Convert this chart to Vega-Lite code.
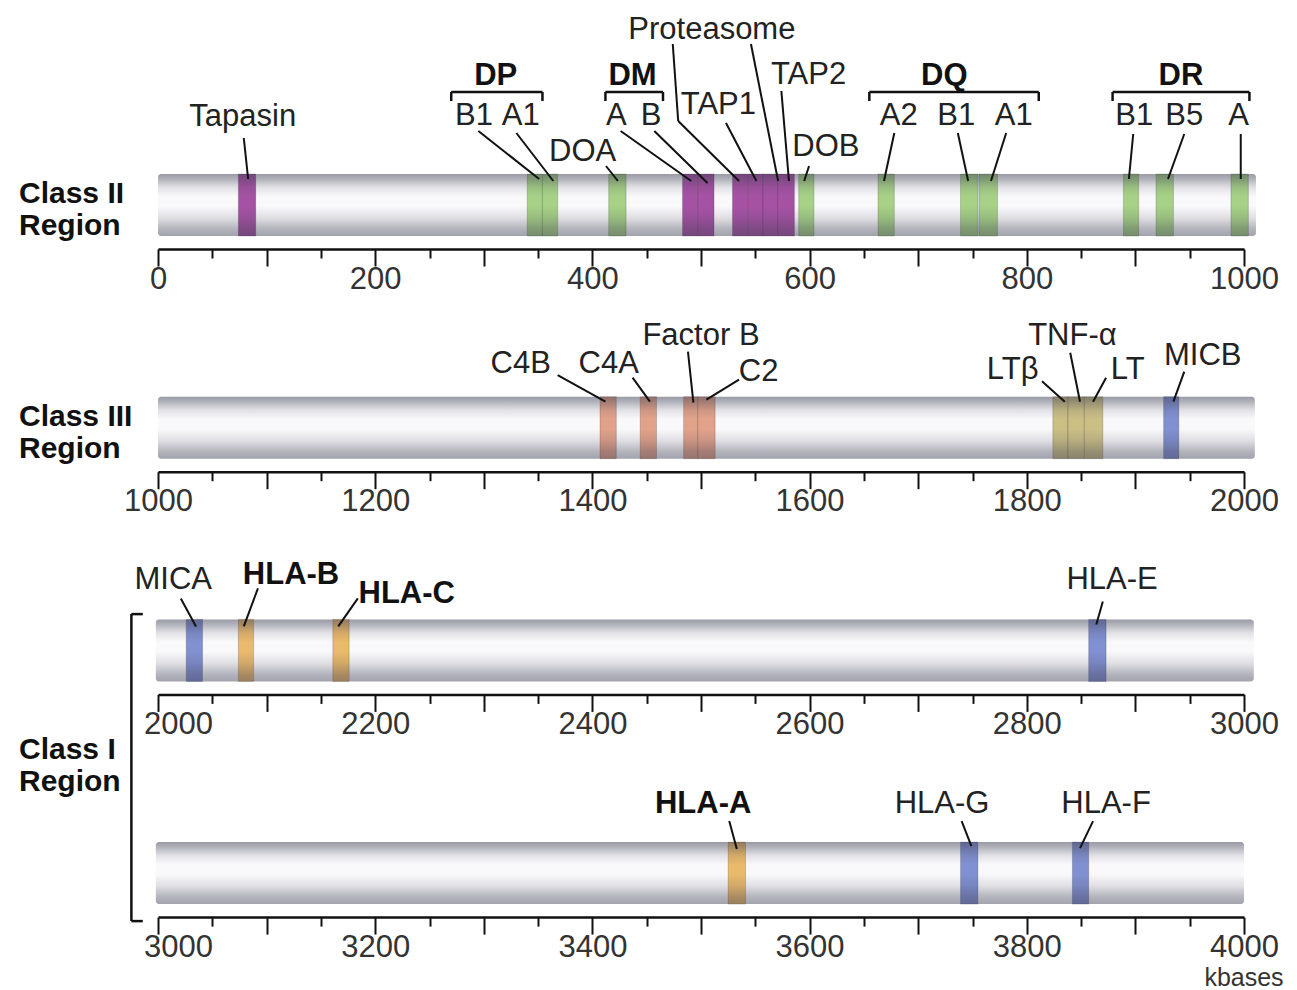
{
  "$schema": "https://vega.github.io/schema/vega-lite/v6.json",
  "background": "white",
  "padding": {"left": 18, "top": 14, "right": 5, "bottom": 5},
  "datasets": {
    "bars": [
      {"row": 1, "start": 0, "end": 1011},
      {"row": 2, "start": 1000, "end": 2010},
      {"row": 3, "start": 1998, "end": 3009},
      {"row": 4, "start": 2998, "end": 4000}
    ],
    "genes": [
      {"row": 1, "gene": "Tapasin", "start": 74, "end": 90, "group": "processing"},
      {"row": 1, "gene": "DPB1", "start": 340, "end": 354, "group": "classII"},
      {"row": 1, "gene": "DPA1", "start": 354, "end": 368, "group": "classII"},
      {"row": 1, "gene": "DOA", "start": 415, "end": 431, "group": "classII"},
      {"row": 1, "gene": "DMA", "start": 483, "end": 497, "group": "processing"},
      {"row": 1, "gene": "DMB", "start": 497, "end": 512, "group": "processing"},
      {"row": 1, "gene": "PSMB9", "start": 529, "end": 543, "group": "processing"},
      {"row": 1, "gene": "TAP1", "start": 543, "end": 557, "group": "processing"},
      {"row": 1, "gene": "PSMB8", "start": 557, "end": 571, "group": "processing"},
      {"row": 1, "gene": "TAP2", "start": 571, "end": 586, "group": "processing"},
      {"row": 1, "gene": "DOB", "start": 590, "end": 604, "group": "classII"},
      {"row": 1, "gene": "DQA2", "start": 663, "end": 678, "group": "classII"},
      {"row": 1, "gene": "DQB1", "start": 739, "end": 755, "group": "classII"},
      {"row": 1, "gene": "DQA1", "start": 756, "end": 773, "group": "classII"},
      {"row": 1, "gene": "DRB1", "start": 889, "end": 903, "group": "classII"},
      {"row": 1, "gene": "DRB5", "start": 919, "end": 935, "group": "classII"},
      {"row": 1, "gene": "DRA", "start": 988, "end": 1004, "group": "classII"},
      {"row": 2, "gene": "C4B", "start": 1407, "end": 1422, "group": "complement"},
      {"row": 2, "gene": "C4A", "start": 1444, "end": 1459, "group": "complement"},
      {"row": 2, "gene": "Factor B", "start": 1484, "end": 1497, "group": "complement"},
      {"row": 2, "gene": "C2", "start": 1497, "end": 1513, "group": "complement"},
      {"row": 2, "gene": "LTB", "start": 1824, "end": 1838, "group": "tnf"},
      {"row": 2, "gene": "TNF", "start": 1838, "end": 1853, "group": "tnf"},
      {"row": 2, "gene": "LT", "start": 1853, "end": 1870, "group": "tnf"},
      {"row": 2, "gene": "MICB", "start": 1926, "end": 1940, "group": "nonclassical"},
      {"row": 3, "gene": "MICA", "start": 2026, "end": 2041, "group": "nonclassical"},
      {"row": 3, "gene": "HLA-B", "start": 2074, "end": 2088, "group": "classical"},
      {"row": 3, "gene": "HLA-C", "start": 2161, "end": 2176, "group": "classical"},
      {"row": 3, "gene": "HLA-E", "start": 2857, "end": 2873, "group": "nonclassical"},
      {"row": 4, "gene": "HLA-A", "start": 3525, "end": 3541, "group": "classical"},
      {"row": 4, "gene": "HLA-G", "start": 3739, "end": 3755, "group": "nonclassical"},
      {"row": 4, "gene": "HLA-F", "start": 3842, "end": 3857, "group": "nonclassical"}
    ],
    "labels": [
      {"row": 1, "label": "Tapasin", "pos": 78, "level": 123, "kind": "gene"},
      {"row": 1, "label": "DP", "pos": 311, "level": 164, "kind": "family"},
      {"row": 1, "label": "B1", "pos": 291, "level": 124, "kind": "gene"},
      {"row": 1, "label": "A1", "pos": 334, "level": 124, "kind": "gene"},
      {"row": 1, "label": "DOA", "pos": 391, "level": 88, "kind": "gene"},
      {"row": 1, "label": "DM", "pos": 437, "level": 164, "kind": "family"},
      {"row": 1, "label": "A", "pos": 422, "level": 124, "kind": "gene"},
      {"row": 1, "label": "B", "pos": 454, "level": 124, "kind": "gene"},
      {"row": 1, "label": "TAP1", "pos": 516, "level": 135, "kind": "gene"},
      {"row": 1, "label": "Proteasome", "pos": 510, "level": 210, "kind": "gene"},
      {"row": 1, "label": "TAP2", "pos": 599, "level": 165, "kind": "gene"},
      {"row": 1, "label": "DOB", "pos": 615, "level": 93, "kind": "gene"},
      {"row": 1, "label": "DQ", "pos": 724, "level": 164, "kind": "family"},
      {"row": 1, "label": "A2", "pos": 682, "level": 124, "kind": "gene"},
      {"row": 1, "label": "B1", "pos": 735, "level": 124, "kind": "gene"},
      {"row": 1, "label": "A1", "pos": 788, "level": 124, "kind": "gene"},
      {"row": 1, "label": "DR", "pos": 942, "level": 164, "kind": "family"},
      {"row": 1, "label": "B1", "pos": 899, "level": 124, "kind": "gene"},
      {"row": 1, "label": "B5", "pos": 945, "level": 124, "kind": "gene"},
      {"row": 1, "label": "A", "pos": 995, "level": 124, "kind": "gene"},
      {"row": 2, "label": "C4B", "pos": 1334, "level": 99, "kind": "gene"},
      {"row": 2, "label": "C4A", "pos": 1415, "level": 99, "kind": "gene"},
      {"row": 2, "label": "Factor B", "pos": 1500, "level": 127, "kind": "gene"},
      {"row": 2, "label": "C2", "pos": 1553, "level": 90.5, "kind": "gene"},
      {"row": 2, "label": "LTβ", "pos": 1787, "level": 92.5, "kind": "gene"},
      {"row": 2, "label": "TNF-α", "pos": 1842, "level": 127, "kind": "gene"},
      {"row": 2, "label": "LT", "pos": 1893, "level": 92.5, "kind": "gene"},
      {"row": 2, "label": "MICB", "pos": 1962, "level": 107, "kind": "gene"},
      {"row": 3, "label": "MICA", "pos": 2014, "level": 105, "kind": "gene"},
      {"row": 3, "label": "HLA-B", "pos": 2122.5, "level": 110, "kind": "classical"},
      {"row": 3, "label": "HLA-C", "pos": 2229, "level": 91, "kind": "classical"},
      {"row": 3, "label": "HLA-E", "pos": 2878.5, "level": 105, "kind": "gene"},
      {"row": 4, "label": "HLA-A", "pos": 3502, "level": 104, "kind": "classical"},
      {"row": 4, "label": "HLA-G", "pos": 3722, "level": 104, "kind": "gene"},
      {"row": 4, "label": "HLA-F", "pos": 3873, "level": 104, "kind": "gene"},
      {"row": 4, "label": "kbases", "pos": 4000, "level": -69, "kind": "unit"}
    ],
    "leaders": [
      {"row": 1, "pos1": 79, "pos2": 83, "lev1": 111, "lev2": 70},
      {"row": 1, "pos1": 295, "pos2": 351, "lev1": 118, "lev2": 70},
      {"row": 1, "pos1": 330, "pos2": 364, "lev1": 116, "lev2": 68},
      {"row": 1, "pos1": 412.5, "pos2": 423.5, "lev1": 83, "lev2": 68},
      {"row": 1, "pos1": 426, "pos2": 491, "lev1": 118, "lev2": 68},
      {"row": 1, "pos1": 457, "pos2": 506, "lev1": 118, "lev2": 66},
      {"row": 1, "pos1": 523, "pos2": 551, "lev1": 126, "lev2": 68},
      {"row": 1, "pos1": 474, "pos2": 479, "lev1": 205, "lev2": 128},
      {"row": 1, "pos1": 479, "pos2": 535, "lev1": 128, "lev2": 68},
      {"row": 1, "pos1": 546, "pos2": 571, "lev1": 205, "lev2": 68},
      {"row": 1, "pos1": 574, "pos2": 581, "lev1": 158, "lev2": 68},
      {"row": 1, "pos1": 599.5, "pos2": 595, "lev1": 83, "lev2": 68},
      {"row": 1, "pos1": 678, "pos2": 668.5, "lev1": 116, "lev2": 68},
      {"row": 1, "pos1": 736.5, "pos2": 746, "lev1": 116, "lev2": 68},
      {"row": 1, "pos1": 781, "pos2": 767, "lev1": 116, "lev2": 68},
      {"row": 1, "pos1": 898, "pos2": 894, "lev1": 115, "lev2": 70},
      {"row": 1, "pos1": 945, "pos2": 930, "lev1": 115, "lev2": 70},
      {"row": 1, "pos1": 997, "pos2": 997, "lev1": 115, "lev2": 70},
      {"row": 2, "pos1": 1368, "pos2": 1412, "lev1": 96.5, "lev2": 70},
      {"row": 2, "pos1": 1437, "pos2": 1453, "lev1": 94, "lev2": 70},
      {"row": 2, "pos1": 1488, "pos2": 1493, "lev1": 120, "lev2": 69},
      {"row": 2, "pos1": 1535, "pos2": 1505, "lev1": 92, "lev2": 72},
      {"row": 2, "pos1": 1814, "pos2": 1835, "lev1": 90.5, "lev2": 70},
      {"row": 2, "pos1": 1840, "pos2": 1849, "lev1": 119, "lev2": 70},
      {"row": 2, "pos1": 1873, "pos2": 1861, "lev1": 94, "lev2": 70},
      {"row": 2, "pos1": 1945, "pos2": 1935, "lev1": 100, "lev2": 70},
      {"row": 3, "pos1": 2021, "pos2": 2035, "lev1": 96, "lev2": 68},
      {"row": 3, "pos1": 2092, "pos2": 2079, "lev1": 106, "lev2": 68},
      {"row": 3, "pos1": 2184, "pos2": 2166, "lev1": 96, "lev2": 68},
      {"row": 3, "pos1": 2870, "pos2": 2864, "lev1": 93, "lev2": 70},
      {"row": 4, "pos1": 3526, "pos2": 3533, "lev1": 96, "lev2": 68},
      {"row": 4, "pos1": 3740, "pos2": 3749, "lev1": 96, "lev2": 71},
      {"row": 4, "pos1": 3861, "pos2": 3849, "lev1": 96, "lev2": 69}
    ],
    "brackets": [
      {"row": 1, "family": "DP", "from": 270, "to": 354, "level": 157},
      {"row": 1, "family": "DM", "from": 412, "to": 465, "level": 157},
      {"row": 1, "family": "DQ", "from": 655, "to": 811, "level": 157},
      {"row": 1, "family": "DR", "from": 879, "to": 1005, "level": 157}
    ],
    "regions": [
      {"row": 1, "label": "Class II\nRegion", "pos": -128, "level": 46},
      {"row": 2, "label": "Class III\nRegion", "pos": 872, "level": 46},
      {"row": 4, "label": "Class I\nRegion", "pos": 2872, "level": 158}
    ],
    "classIBracket": [
      {"row": 4, "pos1": 2975.5, "pos2": 2986, "top": 303, "bottom": -4}
    ]
  },
  "vconcat": [
    {
      "width": 1086,
      "height": 100,
      "layer": [
        {
          "data": {"name": "bars"},
          "transform": [{"filter": "datum.row === 1"}],
          "mark": {"type": "rect", "fill": "#f9f9fb", "cornerRadius": 3},
          "encoding": {
            "x": {"field": "start", "type": "quantitative", "scale": {"domain": [0, 1000], "nice": false, "zero": false},
              "axis": {"values": [0,50,100,150,200,250,300,350,400,450,500,550,600,650,700,750,800,850,900,950,1000], "title": null, "grid": false, "format": "d",
                "labelExpr": "datum.value % 200 === 0 ? datum.label : ''",
                "tickSize": {"condition": {"test": "datum.value % 100 === 0", "value": 17}, "value": 9}}},
            "x2": {"field": "end"},
            "y": {"datum": 13, "type": "quantitative", "scale": {"domain": [0, 100], "nice": false, "zero": false}, "axis": null},
            "y2": {"datum": 75}
          }
        },
        {
          "data": {"name": "genes"},
          "transform": [{"filter": "datum.row === 1"}],
          "mark": {"type": "rect", "stroke": "#000", "strokeOpacity": 0.18, "strokeWidth": 1},
          "encoding": {
            "x": {"field": "start", "type": "quantitative", "scale": {"domain": [0, 1000], "nice": false, "zero": false}},
            "x2": {"field": "end"},
            "y": {"datum": 13, "type": "quantitative", "scale": {"domain": [0, 100], "nice": false, "zero": false}, "axis": null},
            "y2": {"datum": 75},
            "color": {"field": "group", "type": "nominal", "legend": null,
              "scale": {"domain": ["classII", "processing", "complement", "tnf", "nonclassical", "classical"],
                        "range": ["#a6d186", "#a652a4", "#e2a28a", "#cbbf86", "#8190d0", "#e9b96c"]}}
          }
        },
        {
          "data": {"name": "bars"},
          "transform": [{"filter": "datum.row === 1"}],
          "mark": {"type": "rect", "cornerRadius": 3, "fill": {"gradient": "linear", "x1": 0, "y1": 0, "x2": 0, "y2": 1, "stops": [
            {"offset": 0, "color": "rgba(60,60,80,0.5)"},
            {"offset": 0.08, "color": "rgba(60,60,80,0.38)"},
            {"offset": 0.22, "color": "rgba(60,60,80,0.12)"},
            {"offset": 0.36, "color": "rgba(60,60,80,0)"},
            {"offset": 0.52, "color": "rgba(60,60,80,0)"},
            {"offset": 0.7, "color": "rgba(60,60,80,0.13)"},
            {"offset": 0.88, "color": "rgba(60,60,80,0.36)"},
            {"offset": 1, "color": "rgba(60,60,80,0.46)"}]}},
          "encoding": {
            "x": {"field": "start", "type": "quantitative", "scale": {"domain": [0, 1000], "nice": false, "zero": false}},
            "x2": {"field": "end"},
            "y": {"datum": 13, "type": "quantitative", "scale": {"domain": [0, 100], "nice": false, "zero": false}, "axis": null},
            "y2": {"datum": 75}
          }
        },
        {
          "data": {"name": "leaders"},
          "transform": [{"filter": "datum.row === 1"}],
          "mark": {"type": "rule", "color": "#111", "strokeWidth": 2},
          "encoding": {
            "x": {"field": "pos1", "type": "quantitative", "scale": {"domain": [0, 1000], "nice": false, "zero": false}},
            "x2": {"field": "pos2"},
            "y": {"field": "lev1", "type": "quantitative", "scale": {"domain": [0, 100], "nice": false, "zero": false}, "axis": null},
            "y2": {"field": "lev2"}
          }
        },
        {
          "data": {"name": "brackets"},
          "transform": [{"filter": "datum.row === 1"}],
          "mark": {"type": "rule", "color": "#111", "strokeWidth": 2.5},
          "encoding": {
            "x": {"field": "from", "type": "quantitative", "scale": {"domain": [0, 1000], "nice": false, "zero": false}},
            "x2": {"field": "to"},
            "y": {"field": "level", "type": "quantitative", "scale": {"domain": [0, 100], "nice": false, "zero": false}, "axis": null}
          }
        },
        {
          "data": {"name": "brackets"},
          "transform": [{"filter": "datum.row === 1"}],
          "mark": {"type": "rule", "color": "#111", "strokeWidth": 2.5},
          "encoding": {
            "x": {"field": "from", "type": "quantitative", "scale": {"domain": [0, 1000], "nice": false, "zero": false}},
            "y": {"field": "level", "type": "quantitative", "scale": {"domain": [0, 100], "nice": false, "zero": false}, "axis": null},
            "y2": {"datum": 148}
          }
        },
        {
          "data": {"name": "brackets"},
          "transform": [{"filter": "datum.row === 1"}],
          "mark": {"type": "rule", "color": "#111", "strokeWidth": 2.5},
          "encoding": {
            "x": {"field": "to", "type": "quantitative", "scale": {"domain": [0, 1000], "nice": false, "zero": false}},
            "y": {"field": "level", "type": "quantitative", "scale": {"domain": [0, 100], "nice": false, "zero": false}, "axis": null},
            "y2": {"datum": 148}
          }
        },
        {
          "data": {"name": "labels"},
          "transform": [{"filter": "datum.row === 1 && (datum.kind === 'gene' || datum.kind === 'unit')"}],
          "mark": {"type": "text", "font": "Liberation Sans", "fontSize": 31, "fill": "#222", "align": "center", "baseline": "alphabetic"},
          "encoding": {
            "x": {"field": "pos", "type": "quantitative", "scale": {"domain": [0, 1000], "nice": false, "zero": false}},
            "y": {"field": "level", "type": "quantitative", "scale": {"domain": [0, 100], "nice": false, "zero": false}, "axis": null},
            "text": {"field": "label"}
          }
        },
        {
          "data": {"name": "labels"},
          "transform": [{"filter": "datum.row === 1 && (datum.kind === 'family' || datum.kind === 'classical')"}],
          "mark": {"type": "text", "font": "Liberation Sans", "fontSize": 31, "fontWeight": "bold", "fill": "#111", "align": "center", "baseline": "alphabetic"},
          "encoding": {
            "x": {"field": "pos", "type": "quantitative", "scale": {"domain": [0, 1000], "nice": false, "zero": false}},
            "y": {"field": "level", "type": "quantitative", "scale": {"domain": [0, 100], "nice": false, "zero": false}, "axis": null},
            "text": {"field": "label"}
          }
        },
        {
          "data": {"name": "regions"},
          "transform": [{"filter": "datum.row === 1"}],
          "mark": {"type": "text", "font": "Liberation Sans", "fontSize": 30, "fontWeight": "bold", "fill": "#111", "align": "left", "baseline": "alphabetic", "lineBreak": "\n", "lineHeight": 32},
          "encoding": {
            "x": {"field": "pos", "type": "quantitative", "scale": {"domain": [0, 1000], "nice": false, "zero": false}},
            "y": {"field": "level", "type": "quantitative", "scale": {"domain": [0, 100], "nice": false, "zero": false}, "axis": null},
            "text": {"field": "label"}
          }
        }
      ]
    },
    {
      "width": 1086,
      "height": 100,
      "layer": [
        {
          "data": {"name": "bars"},
          "transform": [{"filter": "datum.row === 2"}],
          "mark": {"type": "rect", "fill": "#f9f9fb", "cornerRadius": 3},
          "encoding": {
            "x": {"field": "start", "type": "quantitative", "scale": {"domain": [1000, 2000], "nice": false, "zero": false},
              "axis": {"values": [1000,1050,1100,1150,1200,1250,1300,1350,1400,1450,1500,1550,1600,1650,1700,1750,1800,1850,1900,1950,2000], "title": null, "grid": false, "format": "d",
                "labelExpr": "datum.value % 200 === 0 ? datum.label : ''",
                "tickSize": {"condition": {"test": "datum.value % 100 === 0", "value": 17}, "value": 9}}},
            "x2": {"field": "end"},
            "y": {"datum": 13, "type": "quantitative", "scale": {"domain": [0, 100], "nice": false, "zero": false}, "axis": null},
            "y2": {"datum": 75}
          }
        },
        {
          "data": {"name": "genes"},
          "transform": [{"filter": "datum.row === 2"}],
          "mark": {"type": "rect", "stroke": "#000", "strokeOpacity": 0.18, "strokeWidth": 1},
          "encoding": {
            "x": {"field": "start", "type": "quantitative", "scale": {"domain": [1000, 2000], "nice": false, "zero": false}},
            "x2": {"field": "end"},
            "y": {"datum": 13, "type": "quantitative", "scale": {"domain": [0, 100], "nice": false, "zero": false}, "axis": null},
            "y2": {"datum": 75},
            "color": {"field": "group", "type": "nominal", "legend": null,
              "scale": {"domain": ["classII", "processing", "complement", "tnf", "nonclassical", "classical"],
                        "range": ["#a6d186", "#a652a4", "#e2a28a", "#cbbf86", "#8190d0", "#e9b96c"]}}
          }
        },
        {
          "data": {"name": "bars"},
          "transform": [{"filter": "datum.row === 2"}],
          "mark": {"type": "rect", "cornerRadius": 3, "fill": {"gradient": "linear", "x1": 0, "y1": 0, "x2": 0, "y2": 1, "stops": [
            {"offset": 0, "color": "rgba(60,60,80,0.5)"},
            {"offset": 0.08, "color": "rgba(60,60,80,0.38)"},
            {"offset": 0.22, "color": "rgba(60,60,80,0.12)"},
            {"offset": 0.36, "color": "rgba(60,60,80,0)"},
            {"offset": 0.52, "color": "rgba(60,60,80,0)"},
            {"offset": 0.7, "color": "rgba(60,60,80,0.13)"},
            {"offset": 0.88, "color": "rgba(60,60,80,0.36)"},
            {"offset": 1, "color": "rgba(60,60,80,0.46)"}]}},
          "encoding": {
            "x": {"field": "start", "type": "quantitative", "scale": {"domain": [1000, 2000], "nice": false, "zero": false}},
            "x2": {"field": "end"},
            "y": {"datum": 13, "type": "quantitative", "scale": {"domain": [0, 100], "nice": false, "zero": false}, "axis": null},
            "y2": {"datum": 75}
          }
        },
        {
          "data": {"name": "leaders"},
          "transform": [{"filter": "datum.row === 2"}],
          "mark": {"type": "rule", "color": "#111", "strokeWidth": 2},
          "encoding": {
            "x": {"field": "pos1", "type": "quantitative", "scale": {"domain": [1000, 2000], "nice": false, "zero": false}},
            "x2": {"field": "pos2"},
            "y": {"field": "lev1", "type": "quantitative", "scale": {"domain": [0, 100], "nice": false, "zero": false}, "axis": null},
            "y2": {"field": "lev2"}
          }
        },
        {
          "data": {"name": "labels"},
          "transform": [{"filter": "datum.row === 2 && (datum.kind === 'gene' || datum.kind === 'unit')"}],
          "mark": {"type": "text", "font": "Liberation Sans", "fontSize": 31, "fill": "#222", "align": "center", "baseline": "alphabetic"},
          "encoding": {
            "x": {"field": "pos", "type": "quantitative", "scale": {"domain": [1000, 2000], "nice": false, "zero": false}},
            "y": {"field": "level", "type": "quantitative", "scale": {"domain": [0, 100], "nice": false, "zero": false}, "axis": null},
            "text": {"field": "label"}
          }
        },
        {
          "data": {"name": "regions"},
          "transform": [{"filter": "datum.row === 2"}],
          "mark": {"type": "text", "font": "Liberation Sans", "fontSize": 30, "fontWeight": "bold", "fill": "#111", "align": "left", "baseline": "alphabetic", "lineBreak": "\n", "lineHeight": 32},
          "encoding": {
            "x": {"field": "pos", "type": "quantitative", "scale": {"domain": [1000, 2000], "nice": false, "zero": false}},
            "y": {"field": "level", "type": "quantitative", "scale": {"domain": [0, 100], "nice": false, "zero": false}, "axis": null},
            "text": {"field": "label"}
          }
        }
      ]
    },
    {
      "width": 1086,
      "height": 100,
      "layer": [
        {
          "data": {"name": "bars"},
          "transform": [{"filter": "datum.row === 3"}],
          "mark": {"type": "rect", "fill": "#f9f9fb", "cornerRadius": 3},
          "encoding": {
            "x": {"field": "start", "type": "quantitative", "scale": {"domain": [2000, 3000], "nice": false, "zero": false},
              "axis": {"values": [2000,2050,2100,2150,2200,2250,2300,2350,2400,2450,2500,2550,2600,2650,2700,2750,2800,2850,2900,2950,3000], "title": null, "grid": false, "format": "d",
                "labelExpr": "datum.value % 200 === 0 ? datum.label : ''",
                "labelOffset": {"condition": {"test": "datum.value === 2000", "value": 20}, "value": 0},
                "tickSize": {"condition": {"test": "datum.value % 100 === 0", "value": 17}, "value": 9}}},
            "x2": {"field": "end"},
            "y": {"datum": 13, "type": "quantitative", "scale": {"domain": [0, 100], "nice": false, "zero": false}, "axis": null},
            "y2": {"datum": 75}
          }
        },
        {
          "data": {"name": "genes"},
          "transform": [{"filter": "datum.row === 3"}],
          "mark": {"type": "rect", "stroke": "#000", "strokeOpacity": 0.18, "strokeWidth": 1},
          "encoding": {
            "x": {"field": "start", "type": "quantitative", "scale": {"domain": [2000, 3000], "nice": false, "zero": false}},
            "x2": {"field": "end"},
            "y": {"datum": 13, "type": "quantitative", "scale": {"domain": [0, 100], "nice": false, "zero": false}, "axis": null},
            "y2": {"datum": 75},
            "color": {"field": "group", "type": "nominal", "legend": null,
              "scale": {"domain": ["classII", "processing", "complement", "tnf", "nonclassical", "classical"],
                        "range": ["#a6d186", "#a652a4", "#e2a28a", "#cbbf86", "#8190d0", "#e9b96c"]}}
          }
        },
        {
          "data": {"name": "bars"},
          "transform": [{"filter": "datum.row === 3"}],
          "mark": {"type": "rect", "cornerRadius": 3, "fill": {"gradient": "linear", "x1": 0, "y1": 0, "x2": 0, "y2": 1, "stops": [
            {"offset": 0, "color": "rgba(60,60,80,0.5)"},
            {"offset": 0.08, "color": "rgba(60,60,80,0.38)"},
            {"offset": 0.22, "color": "rgba(60,60,80,0.12)"},
            {"offset": 0.36, "color": "rgba(60,60,80,0)"},
            {"offset": 0.52, "color": "rgba(60,60,80,0)"},
            {"offset": 0.7, "color": "rgba(60,60,80,0.13)"},
            {"offset": 0.88, "color": "rgba(60,60,80,0.36)"},
            {"offset": 1, "color": "rgba(60,60,80,0.46)"}]}},
          "encoding": {
            "x": {"field": "start", "type": "quantitative", "scale": {"domain": [2000, 3000], "nice": false, "zero": false}},
            "x2": {"field": "end"},
            "y": {"datum": 13, "type": "quantitative", "scale": {"domain": [0, 100], "nice": false, "zero": false}, "axis": null},
            "y2": {"datum": 75}
          }
        },
        {
          "data": {"name": "leaders"},
          "transform": [{"filter": "datum.row === 3"}],
          "mark": {"type": "rule", "color": "#111", "strokeWidth": 2},
          "encoding": {
            "x": {"field": "pos1", "type": "quantitative", "scale": {"domain": [2000, 3000], "nice": false, "zero": false}},
            "x2": {"field": "pos2"},
            "y": {"field": "lev1", "type": "quantitative", "scale": {"domain": [0, 100], "nice": false, "zero": false}, "axis": null},
            "y2": {"field": "lev2"}
          }
        },
        {
          "data": {"name": "labels"},
          "transform": [{"filter": "datum.row === 3 && (datum.kind === 'gene' || datum.kind === 'unit')"}],
          "mark": {"type": "text", "font": "Liberation Sans", "fontSize": 31, "fill": "#222", "align": "center", "baseline": "alphabetic"},
          "encoding": {
            "x": {"field": "pos", "type": "quantitative", "scale": {"domain": [2000, 3000], "nice": false, "zero": false}},
            "y": {"field": "level", "type": "quantitative", "scale": {"domain": [0, 100], "nice": false, "zero": false}, "axis": null},
            "text": {"field": "label"}
          }
        },
        {
          "data": {"name": "labels"},
          "transform": [{"filter": "datum.row === 3 && (datum.kind === 'family' || datum.kind === 'classical')"}],
          "mark": {"type": "text", "font": "Liberation Sans", "fontSize": 31, "fontWeight": "bold", "fill": "#111", "align": "center", "baseline": "alphabetic"},
          "encoding": {
            "x": {"field": "pos", "type": "quantitative", "scale": {"domain": [2000, 3000], "nice": false, "zero": false}},
            "y": {"field": "level", "type": "quantitative", "scale": {"domain": [0, 100], "nice": false, "zero": false}, "axis": null},
            "text": {"field": "label"}
          }
        }
      ]
    },
    {
      "width": 1086,
      "height": 100,
      "layer": [
        {
          "data": {"name": "bars"},
          "transform": [{"filter": "datum.row === 4"}],
          "mark": {"type": "rect", "fill": "#f9f9fb", "cornerRadius": 3},
          "encoding": {
            "x": {"field": "start", "type": "quantitative", "scale": {"domain": [3000, 4000], "nice": false, "zero": false},
              "axis": {"values": [3000,3050,3100,3150,3200,3250,3300,3350,3400,3450,3500,3550,3600,3650,3700,3750,3800,3850,3900,3950,4000], "title": null, "grid": false, "format": "d",
                "labelExpr": "datum.value % 200 === 0 ? datum.label : ''",
                "labelOffset": {"condition": {"test": "datum.value === 3000", "value": 20}, "value": 0},
                "tickSize": {"condition": {"test": "datum.value % 100 === 0", "value": 17}, "value": 9}}},
            "x2": {"field": "end"},
            "y": {"datum": 13, "type": "quantitative", "scale": {"domain": [0, 100], "nice": false, "zero": false}, "axis": null},
            "y2": {"datum": 75}
          }
        },
        {
          "data": {"name": "genes"},
          "transform": [{"filter": "datum.row === 4"}],
          "mark": {"type": "rect", "stroke": "#000", "strokeOpacity": 0.18, "strokeWidth": 1},
          "encoding": {
            "x": {"field": "start", "type": "quantitative", "scale": {"domain": [3000, 4000], "nice": false, "zero": false}},
            "x2": {"field": "end"},
            "y": {"datum": 13, "type": "quantitative", "scale": {"domain": [0, 100], "nice": false, "zero": false}, "axis": null},
            "y2": {"datum": 75},
            "color": {"field": "group", "type": "nominal", "legend": null,
              "scale": {"domain": ["classII", "processing", "complement", "tnf", "nonclassical", "classical"],
                        "range": ["#a6d186", "#a652a4", "#e2a28a", "#cbbf86", "#8190d0", "#e9b96c"]}}
          }
        },
        {
          "data": {"name": "bars"},
          "transform": [{"filter": "datum.row === 4"}],
          "mark": {"type": "rect", "cornerRadius": 3, "fill": {"gradient": "linear", "x1": 0, "y1": 0, "x2": 0, "y2": 1, "stops": [
            {"offset": 0, "color": "rgba(60,60,80,0.5)"},
            {"offset": 0.08, "color": "rgba(60,60,80,0.38)"},
            {"offset": 0.22, "color": "rgba(60,60,80,0.12)"},
            {"offset": 0.36, "color": "rgba(60,60,80,0)"},
            {"offset": 0.52, "color": "rgba(60,60,80,0)"},
            {"offset": 0.7, "color": "rgba(60,60,80,0.13)"},
            {"offset": 0.88, "color": "rgba(60,60,80,0.36)"},
            {"offset": 1, "color": "rgba(60,60,80,0.46)"}]}},
          "encoding": {
            "x": {"field": "start", "type": "quantitative", "scale": {"domain": [3000, 4000], "nice": false, "zero": false}},
            "x2": {"field": "end"},
            "y": {"datum": 13, "type": "quantitative", "scale": {"domain": [0, 100], "nice": false, "zero": false}, "axis": null},
            "y2": {"datum": 75}
          }
        },
        {
          "data": {"name": "leaders"},
          "transform": [{"filter": "datum.row === 4"}],
          "mark": {"type": "rule", "color": "#111", "strokeWidth": 2},
          "encoding": {
            "x": {"field": "pos1", "type": "quantitative", "scale": {"domain": [3000, 4000], "nice": false, "zero": false}},
            "x2": {"field": "pos2"},
            "y": {"field": "lev1", "type": "quantitative", "scale": {"domain": [0, 100], "nice": false, "zero": false}, "axis": null},
            "y2": {"field": "lev2"}
          }
        },
        {
          "data": {"name": "classIBracket"},
          "mark": {"type": "rule", "color": "#111", "strokeWidth": 2.5},
          "encoding": {
            "x": {"field": "pos1", "type": "quantitative", "scale": {"domain": [3000, 4000], "nice": false, "zero": false}},
            "y": {"field": "top", "type": "quantitative", "scale": {"domain": [0, 100], "nice": false, "zero": false}, "axis": null},
            "y2": {"field": "bottom"}
          }
        },
        {
          "data": {"name": "classIBracket"},
          "mark": {"type": "rule", "color": "#111", "strokeWidth": 2.5},
          "encoding": {
            "x": {"field": "pos1", "type": "quantitative", "scale": {"domain": [3000, 4000], "nice": false, "zero": false}},
            "x2": {"field": "pos2"},
            "y": {"field": "top", "type": "quantitative", "scale": {"domain": [0, 100], "nice": false, "zero": false}, "axis": null}
          }
        },
        {
          "data": {"name": "classIBracket"},
          "mark": {"type": "rule", "color": "#111", "strokeWidth": 2.5},
          "encoding": {
            "x": {"field": "pos1", "type": "quantitative", "scale": {"domain": [3000, 4000], "nice": false, "zero": false}},
            "x2": {"field": "pos2"},
            "y": {"field": "bottom", "type": "quantitative", "scale": {"domain": [0, 100], "nice": false, "zero": false}, "axis": null}
          }
        },
        {
          "data": {"name": "labels"},
          "transform": [{"filter": "datum.row === 4 && datum.kind === 'gene'"}],
          "mark": {"type": "text", "font": "Liberation Sans", "fontSize": 31, "fill": "#222", "align": "center", "baseline": "alphabetic"},
          "encoding": {
            "x": {"field": "pos", "type": "quantitative", "scale": {"domain": [3000, 4000], "nice": false, "zero": false}},
            "y": {"field": "level", "type": "quantitative", "scale": {"domain": [0, 100], "nice": false, "zero": false}, "axis": null},
            "text": {"field": "label"}
          }
        },
        {
          "data": {"name": "labels"},
          "transform": [{"filter": "datum.row === 4 && datum.kind === 'unit'"}],
          "mark": {"type": "text", "font": "Liberation Sans", "fontSize": 25, "fill": "#333", "align": "center", "baseline": "alphabetic"},
          "encoding": {
            "x": {"field": "pos", "type": "quantitative", "scale": {"domain": [3000, 4000], "nice": false, "zero": false}},
            "y": {"field": "level", "type": "quantitative", "scale": {"domain": [0, 100], "nice": false, "zero": false}, "axis": null},
            "text": {"field": "label"}
          }
        },
        {
          "data": {"name": "labels"},
          "transform": [{"filter": "datum.row === 4 && (datum.kind === 'family' || datum.kind === 'classical')"}],
          "mark": {"type": "text", "font": "Liberation Sans", "fontSize": 31, "fontWeight": "bold", "fill": "#111", "align": "center", "baseline": "alphabetic"},
          "encoding": {
            "x": {"field": "pos", "type": "quantitative", "scale": {"domain": [3000, 4000], "nice": false, "zero": false}},
            "y": {"field": "level", "type": "quantitative", "scale": {"domain": [0, 100], "nice": false, "zero": false}, "axis": null},
            "text": {"field": "label"}
          }
        },
        {
          "data": {"name": "regions"},
          "transform": [{"filter": "datum.row === 4"}],
          "mark": {"type": "text", "font": "Liberation Sans", "fontSize": 30, "fontWeight": "bold", "fill": "#111", "align": "left", "baseline": "alphabetic", "lineBreak": "\n", "lineHeight": 32},
          "encoding": {
            "x": {"field": "pos", "type": "quantitative", "scale": {"domain": [3000, 4000], "nice": false, "zero": false}},
            "y": {"field": "level", "type": "quantitative", "scale": {"domain": [0, 100], "nice": false, "zero": false}, "axis": null},
            "text": {"field": "label"}
          }
        }
      ]
    }
  ],
  "spacing": 122.7,
  "bounds": "flush",
  "config": {
    "view": {"stroke": null},
    "font": "Liberation Sans",
    "axis": {"domainColor": "#111", "domainWidth": 2.5, "tickColor": "#111", "tickWidth": 2, "labelFontSize": 31, "labelColor": "#333", "labelPadding": -2, "labelFont": "Liberation Sans", "labelOverlap": false, "labelFlush": false, "labelBound": false}
  }
}
